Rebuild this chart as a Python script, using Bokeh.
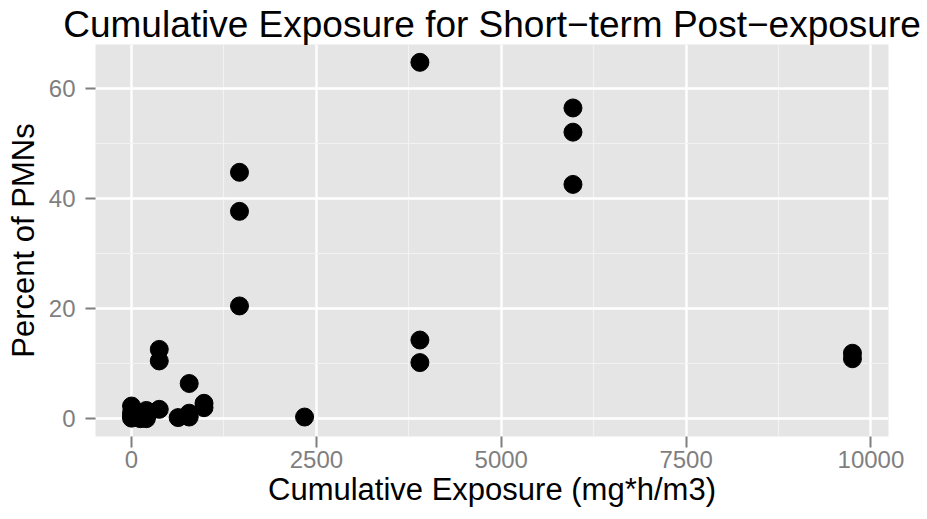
from bokeh.plotting import figure
from bokeh.models import Range1d, FixedTicker
from bokeh.embed import file_html
from bokeh.resources import INLINE

# Data
exposure = [0, 0, 0, 0, 60, 120, 120, 200, 200, 200, 240,
            375, 375, 375, 630, 780, 780, 780, 980, 980,
            1460, 1460, 1460, 2340, 3900, 3900, 3900,
            5970, 5970, 5970, 9750, 9750]
pmn_pct = [2.3, 1.1, 0.5, 0.1, 0.3, 0.0, 0.9, 1.5, 0.3, 0.0, 1.2,
           12.6, 10.5, 1.7, 0.2, 6.4, 1.0, 0.3, 2.8, 2.0,
           44.8, 37.7, 20.5, 0.3, 64.8, 14.3, 10.2,
           56.5, 52.1, 42.6, 11.9, 10.9]

x_ticks = [0, 2500, 5000, 7500, 10000]
x_minor = [1250, 3750, 6250, 8750]
y_ticks = [0, 20, 40, 60]
y_minor = [10, 30, 50]

title_text = "Cumulative Exposure for Short\u2212term Post\u2212exposure"
x_title = "Cumulative Exposure (mg*h/m3)"
y_title = "Percent of PMNs"

xmin, xmax = min(exposure), max(exposure)
ymin, ymax = min(pmn_pct), max(pmn_pct)
xpad = (xmax - xmin) * 0.05
ypad = (ymax - ymin) * 0.05

FONT = "Liberation Sans"

p = figure(frame_width=793, frame_height=392, output_backend="svg", toolbar_location=None,
           x_range=Range1d(xmin - xpad, xmax + xpad),
           y_range=Range1d(ymin - ypad, ymax + ypad),
           min_border_left=95, min_border_right=39, min_border_top=44, min_border_bottom=83)

p.title.text = title_text
p.title.text_font = FONT
p.title.text_font_size = "37px"
p.title.text_font_style = "normal"
p.title.align = "center"
p.title.text_color = "black"
p.title.standoff = 0
p.title.offset = -2

p.background_fill_color = "#E5E5E5"
p.border_fill_color = "white"
p.outline_line_color = None

p.xaxis.ticker = FixedTicker(ticks=x_ticks, minor_ticks=x_minor)
p.yaxis.ticker = FixedTicker(ticks=y_ticks, minor_ticks=y_minor)

for ax in (p.xaxis, p.yaxis):
    ax.axis_line_color = None
    ax.major_tick_line_color = "#7F7F7F"
    ax.major_tick_line_width = 2
    ax.major_tick_in = 0
    ax.minor_tick_line_color = None
    ax.major_label_text_color = "#7F7F7F"
    ax.major_label_text_font = FONT
    ax.major_label_text_font_size = "24px"
    ax.axis_label_text_font = FONT
    ax.axis_label_text_font_size = "31px"
    ax.axis_label_text_font_style = "normal"
    ax.axis_label_text_color = "black"

p.xaxis.axis_label = x_title
p.yaxis.axis_label = y_title
p.xaxis.major_tick_out = 11
p.yaxis.major_tick_out = 10
p.xaxis.major_label_standoff = 3
p.yaxis.major_label_standoff = 10
p.xaxis.axis_label_standoff = 1
p.yaxis.axis_label_standoff = 5

for g in (p.xgrid, p.ygrid):
    g.grid_line_color = "white"
    g.grid_line_width = 2.4
    g.minor_grid_line_color = "#F2F2F2"
    g.minor_grid_line_width = 1.2

p.scatter(exposure, pmn_pct, size=18, color="black", line_color="black")

open("out.html", "w").write(file_html(p, INLINE))
